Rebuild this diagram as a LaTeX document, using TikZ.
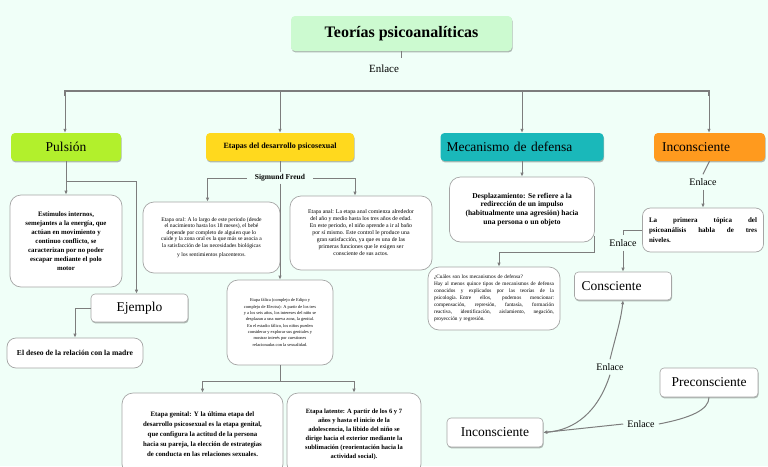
\documentclass[tikz,border=0pt]{standalone}
\usepackage{fontspec}
\setmainfont{Liberation Serif}
\usetikzlibrary{shadows,arrows.meta,calc}
\definecolor{bg}{RGB}{240,255,248}
\definecolor{ttl}{RGB}{204,250,208}
\definecolor{limec}{RGB}{178,240,44}
\definecolor{yel}{RGB}{255,217,30}
\definecolor{tealc}{RGB}{26,184,186}
\definecolor{ora}{RGB}{255,154,30}
\definecolor{edge}{RGB}{165,165,165}
\definecolor{ln}{RGB}{125,125,125}
\newcommand{\fsz}[2]{\fontsize{#1}{#2}\selectfont}
\newcommand{\jl}[2]{\leavevmode\hbox to #1{\spaceskip=0.25em plus 1fil\relax #2}}
\begin{document}
\begin{tikzpicture}[x=1pt,y=-1pt,
 shd/.style={drop shadow={shadow xshift=0.6pt,shadow yshift=-1.4pt,opacity=0.28,fill=black}},
 colbox/.style={rectangle,rounded corners=4pt,shd,inner sep=2pt,minimum height=28pt},
 lblbox/.style={rectangle,rounded corners=4pt,draw=edge,line width=0.6pt,fill=white,shd,inner sep=2pt,minimum height=28pt,font=\fsz{13.5}{15}},
 cbox/.style={rectangle,rounded corners=11pt,draw=edge,line width=0.7pt,fill=white,align=center,inner sep=2pt},
 conn/.style={draw=ln,line width=1pt},
 arr/.style={conn,-{Latex[length=4pt,width=3.5pt]}},
 bus/.style={draw=ln,line width=2pt},
 enl/.style={inner sep=4pt,font=\fsz{10}{12}}
]
\fill[bg] (0,0) rectangle (768,466);
\useasboundingbox (0,0) rectangle (768,466);

% title
\node[colbox,fill=ttl,minimum width=221pt,minimum height=35pt,font=\bfseries\fsz{16}{18}] (title) at (401.5,33.5) {Teorías psicoanalíticas};
\node[enl,font=\fsz{11}{13}] (e1) at (384,69) {Enlace};

% first row
\node[colbox,fill=limec,minimum width=110pt,font=\fsz{13.5}{15}] (puls) at (66,147) {Pulsión};
\node[colbox,fill=yel,minimum width=148pt,font=\bfseries\fsz{8}{9}] (etap) at (280,147) {Etapas del desarrollo psicosexual};
\node[colbox,fill=tealc,minimum width=163pt,text width=151pt,align=left,font=\fsz{13.5}{15}] (mec) at (522,147) {Mecanismo de defensa};
\node[colbox,fill=ora,minimum width=111pt,text width=95pt,align=left,font=\fsz{13.5}{15}] (inc) at (709.5,147) {Inconsciente};

% Pulsion branch
\node[cbox,minimum width=112pt,minimum height=92pt,font=\bfseries\fsz{6.8}{9}] (estim) at (66,241)
 {Estímulos internos,\\semejantes a la energía, que\\actúan en movimiento y\\continuo conflicto, se\\caracterizan por no poder\\escapar mediante el polo\\motor};
\node[lblbox,minimum width=97pt] (ejem) at (139.5,308) {Ejemplo};
\node[cbox,rounded corners=9pt,minimum width=136pt,minimum height=30pt,font=\bfseries\fsz{7.6}{8}] (deseo) at (75,353) {El deseo de la relación con la madre};

% Etapas branch
\node[inner xsep=8pt,inner ysep=2pt,font=\bfseries\fsz{7.5}{8}] (sf) at (280,178) {Sigmund Freud};
\node[cbox,minimum width=137pt,minimum height=71pt,font=\fsz{5.6}{6.5}] (oral) at (211.5,237.5)
 {Etapa oral: A lo largo de este periodo (desde\\el nacimiento hasta los 18 meses), el bebé\\depende por completo de alguien que lo\\cuide y la zona oral es la que más se asocia a\\la satisfacción de las necesidades biológicas\\[3pt]y los sentimientos placenteros.};
\node[cbox,minimum width=142pt,minimum height=74pt,font=\fsz{5.8}{7}] (anal) at (361,233)
 {Etapa anal: La etapa anal comienza alrededor\\del año y medio hasta los tres años de edad.\\En este periodo, el niño aprende a ir al baño\\por sí mismo. Este control le produce una\\gran satisfacción, ya que es una de las\\primeras funciones que le exigen ser\\consciente de sus actos.};
\node[cbox,minimum width=106pt,minimum height=85pt,font=\fsz{4.4}{6.3}] (fal) at (280,322.5)
 {Etapa fálica (complejo de Edipo y\\complejo de Electra): A partir de los tres\\y a los seis años, los intereses del niño se\\desplazan a una nueva zona, la genital.\\En el estadio fálico, los niños pueden\\considerar y explorar sus genitales y\\mostrar interés por cuestiones\\relacionadas con la sexualidad.};
\node[cbox,minimum width=161pt,minimum height=82pt,font=\bfseries\fsz{6.8}{10}] (gen) at (202.5,434)
 {Etapa genital: Y la última etapa del\\desarrollo psicosexual es la etapa genital,\\que configura la actitud de la persona\\hacia su pareja, la elección de estrategias\\de conducta en las relaciones sexuales.};
\node[cbox,minimum width=134pt,minimum height=82pt,font=\bfseries\fsz{6.5}{9}] (lat) at (354,434)
 {Etapa latente: A partir de los 6 y 7\\años y hasta el inicio de la\\adolescencia, la libido del niño se\\dirige hacia el exterior mediante la\\sublimación (reorientación hacia la\\actividad social).};

% Mecanismo branch
\node[cbox,minimum width=145pt,minimum height=65pt,font=\bfseries\fsz{7.5}{8.7}] (desp) at (522,209.5)
 {Desplazamiento: Se refiere a la\\redirección de un impulso\\(habitualmente una agresión) hacia\\una persona o un objeto};
\node[cbox,minimum width=132pt,minimum height=63pt,text width=120pt,align=left,font=\fsz{5.3}{7}] (cuales) at (494,298.5)
 {¿Cuáles son los mecanismos de defensa?\\
 \jl{120pt}{Hay al menos quince tipos de mecanismos de defensa}\\
 \jl{120pt}{conocidos y explicados por las teorías de la}\\
 \jl{120pt}{psicología. Entre ellos, podemos mencionar:}\\
 \jl{120pt}{compensación, represión, fantasía, formación}\\
 \jl{120pt}{reactiva, identificación, aislamiento, negación,}\\
 proyección y regresión.};

% Inconsciente branch
\node[enl] (e2) at (703,182) {Enlace};
\node[cbox,rounded corners=8pt,minimum width=121pt,minimum height=44pt,text width=108pt,align=left,font=\bfseries\fsz{7}{10}] (prim) at (703,230)
 {\jl{108pt}{La primera tópica del}\\
 \jl{108pt}{psicoanálisis habla de tres}\\
 niveles.};
\node[enl] (e3) at (623,243) {Enlace};
\node[lblbox,minimum width=97pt,text width=83pt,align=left] (consc) at (623,286) {Consciente};
\node[enl] (e4) at (610,367) {Enlace};
\node[lblbox,minimum width=98pt,minimum height=29pt] (pre) at (709,382.5) {Preconsciente};
\node[enl] (e5) at (641,424) {Enlace};
\node[lblbox,minimum width=96pt,minimum height=29pt] (inc2) at (495,432.5) {Inconsciente};

% connectors: top
\draw[conn] (title.south) -- ++(0,7);
\coordinate (bl) at (65,91);
\coordinate (br) at (709,91);
\draw[bus] ($(bl)+(0,5)$) -- (bl) -- (br) -- ($(br)+(0,5)$);
\draw[arr] (bl) -- (puls.north -| bl);
\draw[arr] (etap.north |- bl) -- (etap.north);
\draw[arr] (mec.north |- bl) -- (mec.north);
\draw[arr] (br) -- (inc.north -| br);

% Pulsion
\draw[arr] (puls.south) -- (estim.north);
\coordinate (pj) at (66,181);
\draw[arr] (pj) -| ([xshift=-3pt]ejem.north);
\draw[arr] (ejem.west) -| (deseo.north);

% Etapas
\draw[conn] (etap.south) -- (sf.north);
\draw[arr] (sf.west) -| ([xshift=-4pt]oral.north);
\draw[arr] (sf.east) -| ([xshift=-6pt]anal.north);
\draw[arr] (sf.south) -- (fal.north);
\coordinate (fj) at (280,381);
\draw[conn] (fal.south) -- (fj);
\draw[arr] (fj) -| (gen.north);
\draw[arr] (fj) -| (lat.north);

% Mecanismo
\draw[arr] (mec.south) -- (desp.north);
\draw[arr] ($(desp.south east)+(0,-6)$) |- ($(cuales.north)+(5,-14)$) -- ($(cuales.north)+(5,0)$);

% Inconsciente
\draw[conn] (inc.south) -- (e2.north);
\draw[arr] (e2.south) -- (prim.north);
\draw[conn] (prim.west) -| (e3.north);
\draw[arr] (e3.south) -- (consc.north);
\draw[arr] (e4.north) .. controls (616,335) and (621,320) .. (consc.south);
\draw[arr] (e4.south) .. controls (598,412) and (575,430) .. (inc2.east);
\draw[conn] (pre.south) .. controls (709,410) and (690,418) .. (e5.east);
\draw[arr] (e5.west) -- (inc2.east);
\end{tikzpicture}
\end{document}
